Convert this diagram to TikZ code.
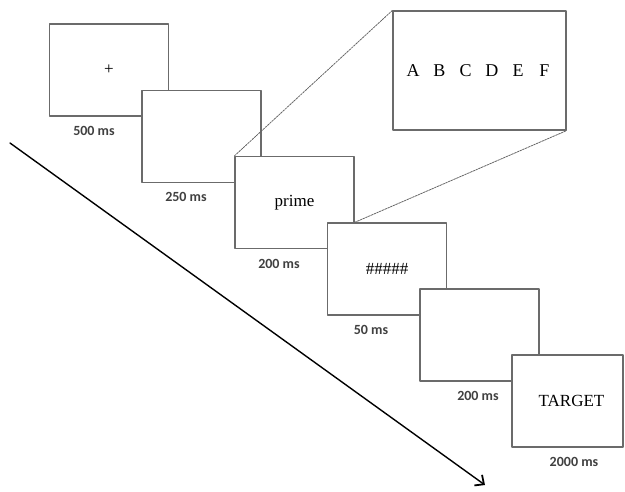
\documentclass[tikz,border=0pt]{standalone}
\usepackage{fontspec}
\setmainfont{Liberation Serif}
\newfontfamily\msfont{Carlito}
\usetikzlibrary{arrows.meta}
\tikzset{
	slide/.style={draw=black!58, line width=1.2pt, fill=white, inner sep=0pt,
		minimum width=119pt, minimum height=92pt, font=\fontsize{17}{19}\selectfont},
	dur/.style={font=\msfont\bfseries\fontsize{14}{16}\selectfont, text=black!75},
	zoomline/.style={draw=black!60, line width=0.8pt, dash pattern=on 2pt off 1pt}
}
\begin{document}
\begin{tikzpicture}[x=1pt, y=-1pt, line join=round, line cap=round,
		>={Straight Barb[length=7pt,width=13pt,line width=1.8pt]}]
				\useasboundingbox (0,0) rectangle (625,491);
				%% Khai bao diem
				\path 
				(10,143) coordinate (T0)
				(485,485) coordinate (T1)
				;
				%% truc thoi gian
				\draw[->, line width=1.4pt] (T0)--(T1);
				%% cac man hinh
				\foreach \n/\x/\y/\t in {b1/109/70/+, b2/201.5/136.5/, b3/294.5/202.5/prime, b4/387/269/\#\#\#\#\#, b5/479.5/335/}
				\node[slide] (\n) at (\x,\y) {\t};
				\node[slide, minimum width=111pt] (b6) at (567.5,401) {\hspace*{8pt}TARGET};
				%% thoi gian
				\foreach \n/\x/\y/\t in {l1/94/131/500, l2/186/197/250, l3/279/264/200, l4/371/330/50, l5/478/396/200, l6/574/462/2000}
				\node[dur] (\n) at (\x,\y) {\t{} ms};
				%% phong to
				\node[slide, minimum width=173pt, minimum height=119pt] (Z) at (479.5,70.5) {};
				\foreach \c [count=\i from 0] in {A,B,C,D,E,F}
				\node[font=\fontsize{18}{20}\selectfont] (z\c) at (413+26.3*\i,71) {\c};
				\draw[zoomline] (b3.north west)--(Z.north west);
				\draw[zoomline] (b3.east |- b4.north)--(Z.south east);
				
		\end{tikzpicture}
\end{document}
